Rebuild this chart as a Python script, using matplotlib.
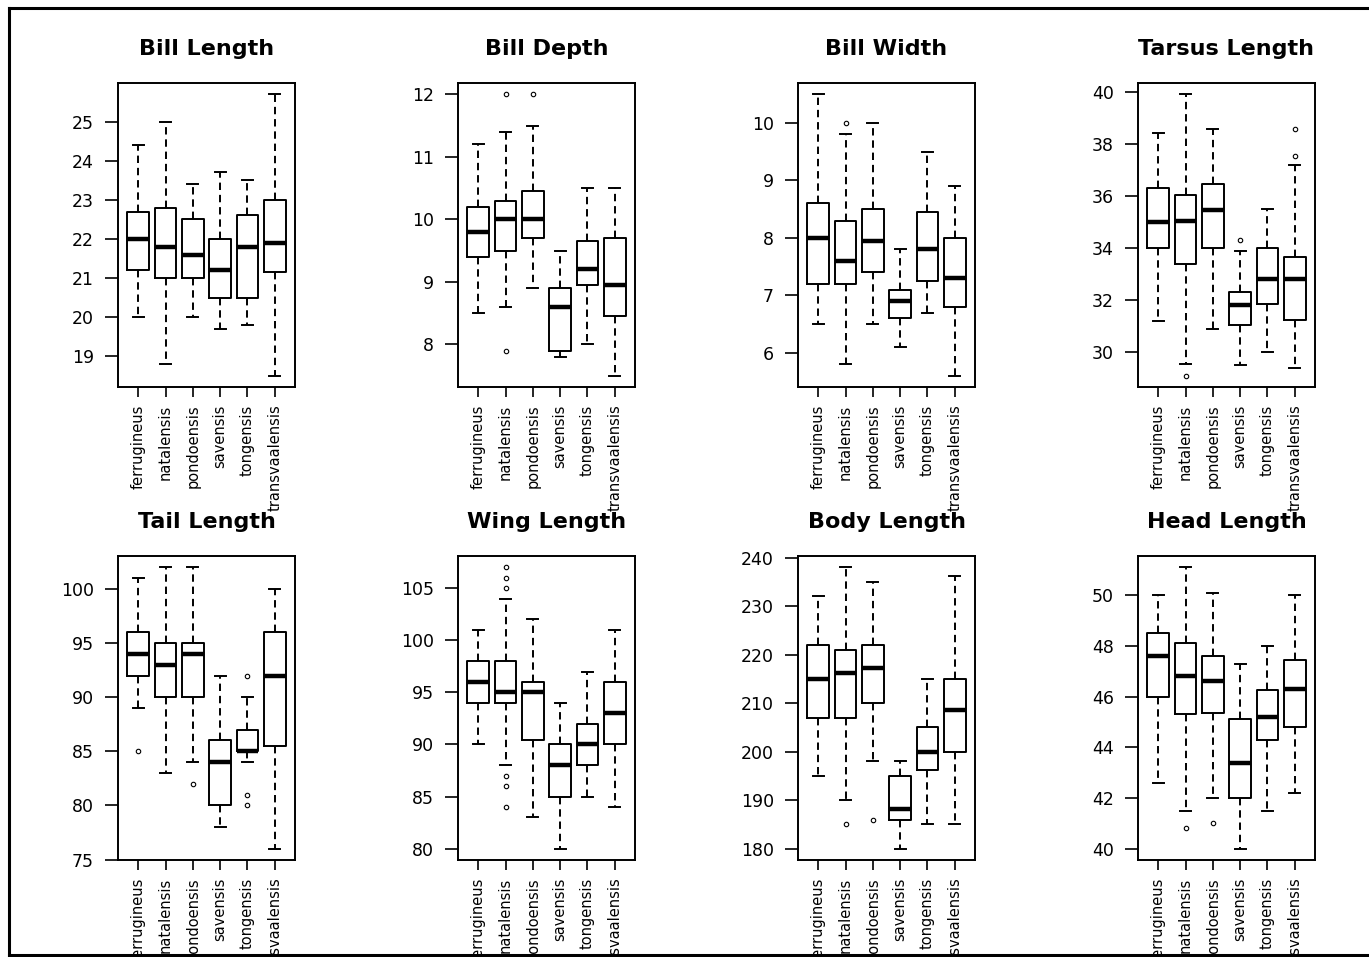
import numpy as np
import matplotlib
matplotlib.use("Agg")
import matplotlib.pyplot as plt
from matplotlib.lines import Line2D

# species on every panel
species = ["ferrugineus", "natalensis", "pondoensis", "savensis", "tongensis", "transvaalensis"]

# five-number summaries per species: [lower whisker, Q1, median, Q3, upper whisker]
bill_length = [[20.0, 21.2, 22.0, 22.7, 24.4], [18.8, 21.0, 21.8, 22.8, 25.0],
               [20.0, 21.0, 21.6, 22.5, 23.4], [19.7, 20.5, 21.2, 22.0, 23.7],
               [19.8, 20.5, 21.8, 22.6, 23.5], [18.5, 21.15, 21.9, 23.0, 25.7]]
bill_length_out = [[], [], [], [], [], []]

bill_depth = [[8.5, 9.4, 9.8, 10.2, 11.2], [8.6, 9.5, 10.0, 10.3, 11.4],
              [8.9, 9.7, 10.0, 10.45, 11.5], [7.8, 7.9, 8.6, 8.9, 9.5],
              [8.0, 8.95, 9.2, 9.65, 10.5], [7.5, 8.45, 8.95, 9.7, 10.5]]
bill_depth_out = [[], [12.0, 7.9], [12.0], [], [], []]

bill_width = [[6.5, 7.2, 8.0, 8.6, 10.5], [5.8, 7.2, 7.6, 8.3, 9.8],
              [6.5, 7.4, 7.95, 8.5, 10.0], [6.1, 6.6, 6.9, 7.1, 7.8],
              [6.7, 7.25, 7.8, 8.45, 9.5], [5.6, 6.8, 7.3, 8.0, 8.9]]
bill_width_out = [[], [10.0], [], [], [], []]

tarsus_length = [[31.2, 34.0, 35.0, 36.3, 38.4], [29.55, 33.4, 35.05, 36.05, 39.9],
                 [30.9, 34.0, 35.45, 36.45, 38.55], [29.5, 31.05, 31.8, 32.3, 33.9],
                 [30.0, 31.85, 32.8, 34.0, 35.5], [29.4, 31.25, 32.8, 33.65, 37.2]]
tarsus_length_out = [[], [29.1], [], [34.3], [], [38.55, 37.55]]

tail_length = [[89, 92, 94, 96, 101], [83, 90, 93, 95, 102],
               [84, 90, 94, 95, 102], [78, 80, 84, 86, 92],
               [84, 85, 85, 87, 90], [76, 85.5, 92, 96, 100]]
tail_length_out = [[85], [], [82], [], [92, 81, 80], []]

wing_length = [[90, 94, 96, 98, 101], [88, 94, 95, 98, 104],
               [83, 90.4, 95, 96, 102], [80, 85, 88, 90, 94],
               [85, 88, 90, 92, 97], [84, 90, 93, 96, 101]]
wing_length_out = [[], [107, 106, 105, 87, 86, 84], [], [], [], []]

body_length = [[195, 207, 215, 222, 232], [190, 207, 216.3, 221, 238],
               [198, 210, 217.2, 222, 235], [180, 186, 188.2, 195, 198],
               [185, 196.2, 200, 205.1, 215], [185, 200, 208.5, 215, 236.3]]
body_length_out = [[], [185], [186], [], [], []]

head_length = [[42.6, 46.0, 47.6, 48.5, 50.0], [41.5, 45.3, 46.8, 48.1, 51.1],
               [42.0, 45.35, 46.6, 47.6, 50.1], [40.0, 42.0, 43.4, 45.1, 47.3],
               [41.5, 44.3, 45.2, 46.25, 48.0], [42.2, 44.8, 46.3, 47.45, 50.0]]
head_length_out = [[], [40.8], [41.0], [], [], []]

titles = ["Bill Length", "Bill Depth", "Bill Width", "Tarsus Length",
          "Tail Length", "Wing Length", "Body Length", "Head Length"]
summaries = [bill_length, bill_depth, bill_width, tarsus_length,
             tail_length, wing_length, body_length, head_length]
outliers = [bill_length_out, bill_depth_out, bill_width_out, tarsus_length_out,
            tail_length_out, wing_length_out, body_length_out, head_length_out]
tick_steps = [1, 1, 1, 2, 5, 5, 10, 2]

W, H = 1369, 957
fig = plt.figure(figsize=(W / 100, H / 100), dpi=100)

lefts = [118, 458, 798, 1138]
tops = [83, 556]
aw, ah = 177, 304

for i, title in enumerate(titles):
    row, col = divmod(i, 4)
    ax = fig.add_axes([lefts[col] / W, 1 - (tops[row] + ah) / H, aw / W, ah / H])

    stats = []
    for s, out in zip(summaries[i], outliers[i]):
        stats.append(dict(whislo=s[0], q1=s[1], med=s[2], q3=s[3], whishi=s[4], fliers=out))

    ax.bxp(stats, positions=range(1, 7), widths=0.8, capwidths=0.4,
           boxprops=dict(color="black", linewidth=1.4),
           medianprops=dict(color="black", linewidth=3.2, solid_capstyle="butt"),
           whiskerprops=dict(color="black", linewidth=1.4, linestyle=(0, (3.8, 2.5))),
           capprops=dict(color="black", linewidth=1.4),
           flierprops=dict(marker="o", markersize=3.2, markerfacecolor="none",
                           markeredgecolor="black", markeredgewidth=0.8))

    # R style axis ranges: data extent plus 4 %
    vals = [v for s in summaries[i] for v in s] + [v for o in outliers[i] for v in o]
    lo, hi = min(vals), max(vals)
    pad = 0.04 * (hi - lo)
    ax.set_ylim(lo - pad, hi + pad)
    ax.set_xlim(1 - 0.74, 6 + 0.74)

    step = tick_steps[i]
    ticks = np.arange(np.ceil((lo - pad) / step) * step, hi + pad, step)
    ax.set_yticks(ticks)
    ax.set_yticklabels([f"{t:g}" for t in ticks])
    ax.set_xticks(range(1, 7))
    ax.set_xticklabels(species, rotation=90, va="top", ha="center")

    ax.tick_params(axis="y", length=9.4, width=1.2, pad=8.0, labelsize=12.5)
    ax.tick_params(axis="x", length=7.2, width=1.2, pad=5.5, labelsize=10.5)
    for sp in ax.spines.values():
        sp.set_linewidth(1.4)
    ax.set_title(title, fontsize=16, fontweight="bold", pad=20)

# outer frame of the picture
fig.add_artist(Line2D([8.5 / W, 8.5 / W], [1 - 7.5 / H, 1 - 955 / H], color="black", lw=2.2))
fig.add_artist(Line2D([8.5 / W, 1.0], [1 - 7.5 / H, 1 - 7.5 / H], color="black", lw=2.2))
fig.add_artist(Line2D([8.5 / W, 1.0], [1 - 955 / H, 1 - 955 / H], color="black", lw=2.2))

fig.savefig("out.png", dpi=100)
